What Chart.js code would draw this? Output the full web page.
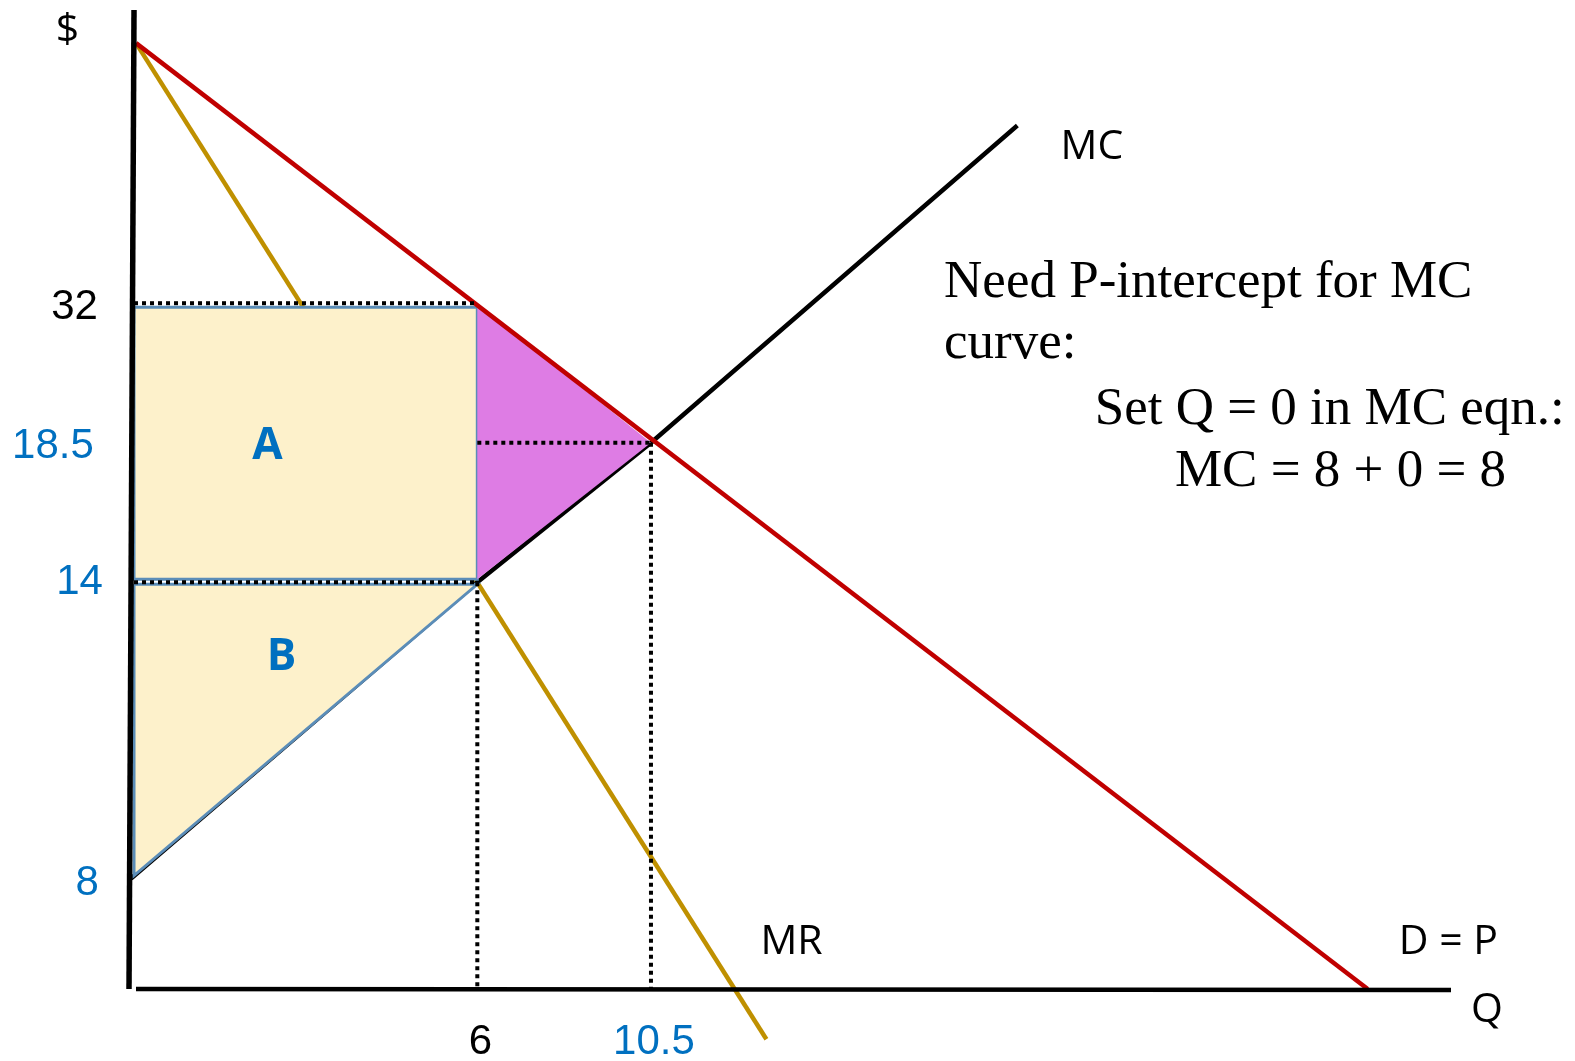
<!DOCTYPE html>
<html>
<head>
<meta charset="utf-8">
<script src="https://cdn.jsdelivr.net/npm/chart.js@4/dist/chart.umd.min.js"></script>
<style>
html, body { margin: 0; padding: 0; background: #fff; }
#wrap { width: 1575px; height: 1061px; }
</style>
</head>
<body>
<div id="wrap"><canvas id="chart"></canvas></div>
<script>
// The sketch is not drawn to scale, so values are positions along each axis
// (diagram units measured from the origin), labelled with the economic numbers.
var demandQ = [5, 1232];
var demandP = [942, 0];
var mrQ = [5, 633];
var mrP = [942, -50];
var mcQ = [0, 345, 518, 883];
var mcP = [110, 405, 544, 860];

var priceTicks = ['32', '18.5', '14', '8'];
var pricePos = [682, 544, 405, 113];
var priceShift = [3, 4, 0, 8];
var priceRight = [-33, -37, -28, -32];
var priceColors = ['#000000', '#0070c0', '#0070c0', '#0070c0'];
var qtyTicks = ['6', '10.5'];
var qtyPos = [345, 518];
var qtyColors = ['#000000', '#0070c0'];

// shaded areas (A = rectangle, B = triangle under it, DWL = magenta triangle)
var areaAQ = [3, 345, 345, 3, 3];
var areaAP = [679, 679, 408, 408, 679];
var areaBQ = [3, 345, 3, 3];
var areaBP = [403, 403, 113, 403];
var dwlQ = [345, 518, 345, 345];
var dwlP = [682, 544, 408, 682];

// dotted guide lines
var guideFromQ = [3, 345, 3, 345, 518];
var guideFromP = [683, 544, 405, 405, 544];
var guideToQ = [345, 518, 345, 345, 518];
var guideToP = [683, 544, 405, 0, 0];

// axes
var yAxisQ = [3, -2];
var yAxisP = [975, 0];
var xAxisQ = [5, 1315];
var xAxisP = [0, -1];

var noteLines = ['Need P-intercept for MC', 'curve:', 'Set Q = 0 in MC eqn.:', 'MC = 8 + 0 = 8'];
var noteQ = [810, 810, 960, 1040];
var noteP = [689, 628, 563, 501];

var curveLabels = ['MC', 'MR', 'D = P', 'Q', '$'];
var curveLabelQ = [926, 627, 1263, 1335, -75];
var curveLabelP = [827, 35, 35, -33, 943];

var areaLabels = ['A', 'B'];
var areaLabelQ = [136, 150];
var areaLabelP = [540, 330];

function pts(xs, ys) {
    return xs.map(function(x, i) { return {x: x, y: ys[i]}; });
}

var datasets = [];

function addLine(data, color, width, extra) {
    var ds = {
        data: data,
        showLine: true,
        borderColor: color,
        borderWidth: width,
        pointRadius: 0,
        fill: false,
        tension: 0,
        clip: false
    };
    for (var k in extra) { ds[k] = extra[k]; }
    datasets.push(ds);
}

// lower order = drawn on top
addLine(pts(yAxisQ, yAxisP), '#000000', 5.5, {order: 0});
addLine(pts(xAxisQ, xAxisP), '#000000', 4.5, {order: 0});
for (var i = 0; i < guideFromQ.length; i++) {
    addLine(pts([guideFromQ[i], guideToQ[i]], [guideFromP[i], guideToP[i]]), '#000000', 4,
        {borderDash: [4, 4], order: 1});
}
addLine(pts(demandQ, demandP), '#c00000', 4.5, {order: 2});
addLine(pts(dwlQ, dwlP), 'rgba(0,0,0,0)', 0, {fill: 'shape', backgroundColor: '#de7ce4', order: 3});
addLine(pts(areaAQ, areaAP), '#5b8db8', 3, {fill: 'shape', backgroundColor: '#fdf1cb', order: 4});
addLine(pts(areaBQ, areaBP), '#5b8db8', 3, {fill: 'shape', backgroundColor: '#fdf1cb', order: 4});
addLine(pts(mcQ, mcP), '#000000', 4.5, {order: 5});
addLine(pts(mrQ, mrP), '#bf9000', 4.5, {order: 6});

var labelPlugin = {
    id: 'labels',
    afterDatasetsDraw: function(chart) {
        var ctx = chart.ctx;
        var xs = chart.scales.x, ys = chart.scales.y;
        ctx.save();

        ctx.font = '42px "Liberation Sans", Arial, sans-serif';
        ctx.textAlign = 'right';
        ctx.textBaseline = 'middle';
        pricePos.forEach(function(p, i) {
            ctx.fillStyle = priceColors[i];
            ctx.fillText(priceTicks[i], xs.getPixelForValue(priceRight[i]), ys.getPixelForValue(p) + priceShift[i]);
        });
        ctx.textAlign = 'center';
        qtyPos.forEach(function(q, i) {
            ctx.fillStyle = qtyColors[i];
            ctx.fillText(qtyTicks[i], xs.getPixelForValue(q) + 3, ys.getPixelForValue(-53));
        });

        ctx.font = '41px "Open Sans", sans-serif';
        ctx.textAlign = 'left';
        ctx.textBaseline = 'alphabetic';
        ctx.fillStyle = '#000000';
        curveLabels.forEach(function(t, i) {
            ctx.fillText(t, xs.getPixelForValue(curveLabelQ[i]), ys.getPixelForValue(curveLabelP[i]));
        });

        ctx.font = 'bold 44px "Open Sans", sans-serif';
        ctx.textAlign = 'center';
        ctx.textBaseline = 'middle';
        ctx.fillStyle = '#0070c0';
        areaLabels.forEach(function(t, i) {
            ctx.fillText(t, xs.getPixelForValue(areaLabelQ[i]), ys.getPixelForValue(areaLabelP[i]));
        });

        ctx.font = '53px "Liberation Serif", "Times New Roman", serif';
        ctx.textAlign = 'left';
        ctx.textBaseline = 'alphabetic';
        ctx.fillStyle = '#000000';
        noteLines.forEach(function(t, i) {
            ctx.fillText(t, xs.getPixelForValue(noteQ[i]), ys.getPixelForValue(noteP[i]));
        });
        ctx.restore();
    }
};

new Chart(document.getElementById('chart'), {
    type: 'scatter',
    data: {datasets: datasets},
    options: {
        responsive: true,
        maintainAspectRatio: false,
        animation: false,
        layout: {padding: {left: 131, right: 124, top: 10, bottom: 72}},
        plugins: {legend: {display: false}, tooltip: {enabled: false}},
        scales: {
            x: {type: 'linear', display: false, min: 0, max: 1315},
            y: {type: 'linear', display: false, min: 0, max: 975}
        }
    },
    plugins: [labelPlugin]
});
</script>
</body>
</html>
